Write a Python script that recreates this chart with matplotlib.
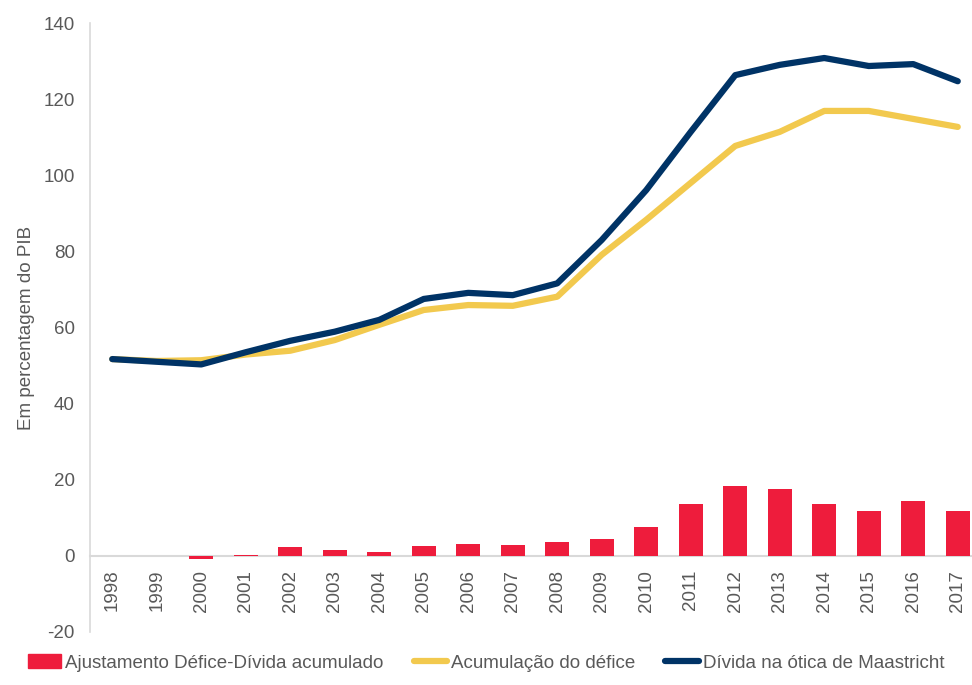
import numpy as np
import matplotlib
matplotlib.use('Agg')
import matplotlib.pyplot as plt
from matplotlib.patches import Patch
from matplotlib.lines import Line2D

plt.rcParams['font.family'] = ['Liberation Sans', 'DejaVu Sans']
plt.rcParams['axes.unicode_minus'] = False

years = np.arange(1998, 2018)
ajustamento = [0.0, 0.0, -0.7, 0.3, 2.3, 1.6, 1.0, 2.6, 3.1, 2.8,
               3.6, 4.4, 7.6, 13.7, 18.4, 17.5, 13.7, 11.8, 14.4, 11.8]
acumulacao = [51.7, 51.2, 51.4, 52.9, 53.9, 56.7, 60.7, 64.6, 65.9, 65.7,
              68.1, 79.1, 88.3, 98.0, 107.7, 111.4, 116.9, 116.9, 114.8, 112.7]
divida = [51.7, 51.0, 50.3, 53.5, 56.5, 58.9, 62.0, 67.5, 69.1, 68.5,
          71.6, 83.0, 96.1, 111.4, 126.3, 129.0, 130.8, 128.7, 129.2, 124.7]

c_red = '#EE1C3C'
c_yel = '#F2C94E'
c_navy = '#003366'
c_grid = '#D9D9D9'
c_text = '#595959'

fig = plt.figure(figsize=(9.72, 6.85), dpi=100)
ax = fig.add_axes([90/972, 1-632/685, 890/972, 609/685])

ax.bar(years, ajustamento, width=0.54, color=c_red, zorder=3)
ax.plot(years, acumulacao, color=c_yel, lw=4.5, solid_capstyle='round',
        solid_joinstyle='round', zorder=4)
ax.plot(years, divida, color=c_navy, lw=4.5, solid_capstyle='round',
        solid_joinstyle='round', zorder=5)

ax.set_xlim(1997.5, 2017.5)
ax.set_ylim(-20, 140)
ax.set_yticks(range(-20, 141, 20))
ax.set_xticks(years)
ax.set_xticklabels([str(y) for y in years])

for s in ['top', 'right']:
    ax.spines[s].set_visible(False)
ax.spines['left'].set_color(c_grid)
ax.spines['left'].set_linewidth(1.2)
ax.spines['bottom'].set_position(('data', 0))
ax.spines['bottom'].set_color(c_grid)
ax.spines['bottom'].set_linewidth(1.5)
ax.tick_params(axis='both', length=0, labelsize=13.5, colors=c_text)
ax.tick_params(axis='x', labelrotation=90, pad=10)
ax.tick_params(axis='y', pad=11)
ax.set_ylabel('Em percentagem do PIB', fontsize=13.5, color=c_text, labelpad=6)

handles = [Patch(color=c_red),
           Line2D([], [], color=c_yel, lw=4.5, solid_capstyle='round'),
           Line2D([], [], color=c_navy, lw=4.5, solid_capstyle='round')]
labels = ['Ajustamento Défice-Dívida acumulado', 'Acumulação do défice',
          'Dívida na ótica de Maastricht']
fig.legend(handles, labels, loc='center', bbox_to_anchor=(0.5, 1-663/685),
           ncol=3, frameon=False, fontsize=13.5, handlelength=1.8,
           handletextpad=0.2, columnspacing=1.6, labelcolor=c_text)

fig.savefig('out.png', dpi=100)
